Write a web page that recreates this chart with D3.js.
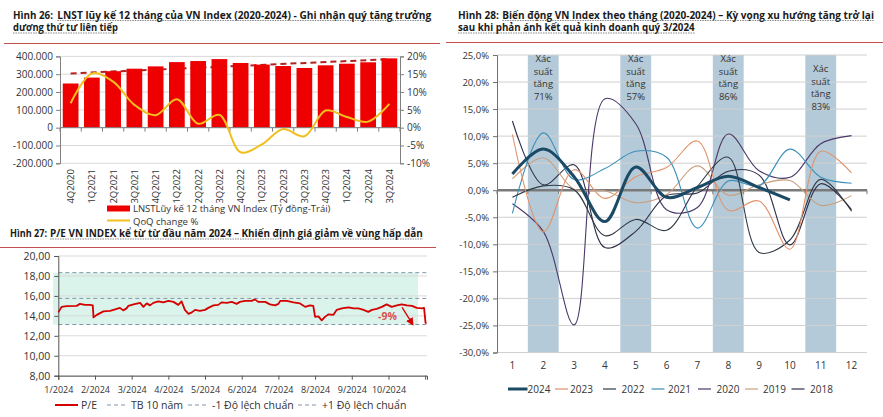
<!DOCTYPE html>
<html><head><meta charset="utf-8">
<script src="https://cdn.jsdelivr.net/npm/d3@7/dist/d3.min.js"></script>
<style>
body{margin:0;background:#fff}
svg{display:block}
text{font-family:"Open Sans","Noto Sans",sans-serif;fill:#333}
</style>
</head><body>
<svg id="c" width="883" height="417"></svg>
<script>
// ---------------- DATA ----------------
// Hình 26
const quarters = ["4Q2020","1Q2021","2Q2021","3Q2021","4Q2021","1Q2022","2Q2022","3Q2022","4Q2022","1Q2023","2Q2023","3Q2023","4Q2023","1Q2024","2Q2024","3Q2024"];
const profit = [248000,281000,317000,331000,344000,368000,374000,385000,363000,354000,346000,335000,350000,359000,367000,389000];
const qoqChange = [6.85,15.2,12.9,6.4,3.5,8.0,1.1,3.6,-6.9,-4.7,-0.4,-2.4,4.8,3.0,1.7,6.7];
const profitTicks = [-200000,-100000,0,100000,200000,300000,400000];
const qoqTicks = [-10,-5,0,5,10,15,20];

// Hình 27
const peMonth = [0,0.09,0.23,0.5,0.59,0.73,0.86,0.94,0.96,1.05,1.23,1.41,1.55,1.68,1.77,1.86,1.91,2.05,2.23,2.32,2.41,2.5,2.59,2.73,2.86,3.0,3.14,3.27,3.36,3.45,3.55,3.64,3.73,3.86,4.0,4.09,4.23,4.36,4.45,4.59,4.73,4.86,4.95,5.09,5.27,5.36,5.45,5.64,5.77,5.91,6.0,6.05,6.23,6.41,6.59,6.73,6.86,6.95,7.0,7.09,7.18,7.27,7.36,7.5,7.59,7.73,7.91,8.05,8.18,8.32,8.45,8.55,8.68,8.82,8.95,9.09,9.23,9.36,9.5,9.64,9.77,9.91,9.97,10.01,10.04];
const peValue = [14.35,14.9,14.98,15.0,15.2,15.1,15.1,15.05,13.85,14.1,14.45,14.5,14.65,14.8,14.55,14.75,15.0,15.15,15.3,14.9,15.25,15.05,15.3,15.45,15.35,15.5,15.4,15.1,15.45,14.6,14.2,14.35,14.6,14.5,14.6,14.8,15.05,15.1,15.35,15.3,15.4,15.2,15.4,15.5,15.5,15.65,15.4,15.4,15.15,15.05,15.2,15.5,15.5,15.35,15.25,14.9,15.05,15.0,13.9,13.95,13.55,13.9,14.15,14.1,14.6,14.75,14.85,14.75,14.75,14.6,14.4,14.6,14.7,14.9,15.15,14.9,15.05,15.15,15.05,15.0,14.8,14.75,14.8,13.3,13.3];
const peMonthLabels = ["1/2024","2/2024","3/2024","4/2024","5/2024","6/2024","7/2024","8/2024","9/2024","10/2024"];
const peTicks = [8,10,12,14,16,18,20];
const peMean10y = 15.75;
const pePlus1Sd = 18.33;
const peMinus1Sd = 13.13;
const peDropLabel = "-9%";
const peArrowFrom = [9.37,14.85];
const peArrowTo = [9.66,13.15];

// Hình 28
const months = [1,2,3,4,5,6,7,8,9,10,11,12];
const years = ["2024","2023","2022","2021","2020","2019","2018"];
const ret2024 = [3.0,7.6,2.5,-5.8,4.3,-1.3,0.5,2.6,0.5,-1.8];
const ret2023 = [10.3,-7.7,3.8,-1.5,2.5,4.2,9.1,-3.7,-2.0,-10.9,7.2,3.2];
const ret2022 = [-1.3,0.8,0.1,-8.4,-5.4,-7.4,0.7,6.1,-11.5,-9.2,2.0,-3.9];
const ret2021 = [-4.3,10.6,2.0,4.0,7.2,6.1,-7.0,1.7,0.8,7.6,2.4,1.3];
const ret2020 = [-2.5,-7.6,-24.9,16.9,12.3,-3.6,-3.2,10.4,3.6,2.4,8.6,10.1];
const ret2019 = [2.1,6.0,0.2,-0.1,-2.3,-0.8,4.5,-0.9,1.0,1.8,-2.8,-1.0];
const ret2018 = [12.8,1.0,4.7,-10.6,-7.6,-1.0,-0.5,3.5,2.8,-10.1,1.2,-3.6];
const bandMonths = [2,5,8,11];
const bandProb = ["71%","57%","86%","83%"];
const retTicks = [-30,-25,-20,-15,-10,-5,0,5,10,15,20,25];

// ---------------- DRAW ----------------
const svg = d3.select("#c");
const loc = d3.formatLocale({decimal:",",thousands:".",grouping:[3],currency:["",""],minus:"-"});
const fmtThou = loc.format(",.0f");
const fmtPct1 = v => loc.format(".1f")(v) + "%";
const fmtPe = loc.format(".2f");

function tText(x, y, s, w, underline) {
  const g = svg.append("g").attr("transform", `translate(${x},${y})`);
  const t = g.append("text").attr("x", 0).attr("y", 0)
    .attr("font-size", 10).attr("font-weight", 700).style("fill", "#1a1a1a")
    .attr("font-family","Roboto, 'Open Sans', sans-serif").text(s);
  const nat = t.node().getComputedTextLength();
  const sx = w / nat;
  t.attr("transform", `scale(${sx},1)`);
  if (underline) {
    g.append("line").attr("x1", 0).attr("x2", w).attr("y1", 2).attr("y2", 2)
      .attr("stroke", "#555").attr("stroke-width", 0.7).attr("stroke-dasharray", "1.5,1");
  }
}
tText(13, 18.5, "Hình 26:", 40, false);
tText(57.3, 18.5, "LNST lũy kế 12 tháng của VN Index (2020-2024) -  Ghi nhận quý tăng trưởng", 374, true);
tText(13, 31, "dương thứ tư liên tiếp", 105, true);
svg.append("line").attr("x1",4).attr("x2",440).attr("y1",43.5).attr("y2",43.5).attr("stroke","#c0504d").attr("stroke-width",1);

tText(10, 237, "Hình 27:", 37, false);
tText(50, 237, "P/E VN INDEX kể từ từ đầu năm 2024 – Khiến định giá giảm về vùng hấp dẫn", 373, true);
svg.append("line").attr("x1",0).attr("x2",436).attr("y1",247.5).attr("y2",247.5).attr("stroke","#c0504d").attr("stroke-width",1);

tText(458, 18.5, "Hình 28:", 41, false);
tText(502.3, 18.5, "Biến động VN Index theo tháng (2020-2024) – Kỳ vọng xu hướng tăng trở lại", 372, true);
tText(458, 31, "sau khi phản ánh kết quả kinh doanh quý 3/2024", 237, true);
svg.append("line").attr("x1",446).attr("x2",883).attr("y1",42.5).attr("y2",42.5).attr("stroke","#c0504d").attr("stroke-width",1);

// ===== Chart 26 =====
(function(){
  const x = d3.scaleBand().domain(quarters).range([60,400]).paddingInner(0.26).paddingOuter(0.13);
  const yL = d3.scaleLinear().domain([-200000,400000]).range([163.3,56.4]);
  const yR = d3.scaleLinear().domain([-10,20]).range([163.3,56.4]);
  const g = svg.append("g");
  g.selectAll("line.grid").data(profitTicks).join("line")
    .attr("x1",60).attr("x2",400).attr("y1",d=>yL(d)).attr("y2",d=>yL(d))
    .attr("stroke","#d9d9d9").attr("stroke-width",1);
  // trend (linear regression of profit)
  const n = profit.length, xs = d3.range(n);
  const mx = d3.mean(xs), my = d3.mean(profit);
  const slope = d3.sum(xs, i => (i-mx)*(profit[i]-my)) / d3.sum(xs, i => (i-mx)*(i-mx));
  const icpt = my - slope*mx;
  g.append("line")
    .attr("x1", x(quarters[0]) + x.bandwidth()/2).attr("y1", yL(icpt))
    .attr("x2", x(quarters[n-1]) + x.bandwidth()/2).attr("y2", yL(icpt + slope*(n-1)))
    .attr("stroke","#b22222").attr("stroke-width",2).attr("stroke-dasharray","6,4");
  g.selectAll("rect.bar").data(profit).join("rect")
    .attr("x",(d,i)=>x(quarters[i])).attr("width",x.bandwidth())
    .attr("y",d=>yL(d)).attr("height",d=>yL(0)-yL(d)).attr("fill","#ee0000");
  // axes
  const axL = g.append("g").attr("transform","translate(60,0)")
    .call(d3.axisLeft(yL).tickValues(profitTicks).tickFormat(fmtThou).tickSize(4).tickPadding(3));
  const axR = g.append("g").attr("transform","translate(400,0)")
    .call(d3.axisRight(yR).tickValues(qoqTicks).tickFormat(d=>d+"%").tickSize(4).tickPadding(3));
  [axL,axR].forEach(a=>{a.select(".domain").attr("stroke","#808080");a.selectAll(".tick line").attr("stroke","#808080");
    a.selectAll("text").attr("font-size",10).style("fill","#333").attr("font-family","'Open Sans'");});
  // zero axis
  g.append("line").attr("x1",60).attr("x2",400).attr("y1",yL(0)).attr("y2",yL(0)).attr("stroke","#808080");
  const bounds = quarters.map(q=>x(q)-x.step()*x.paddingInner()/2).concat([400]);
  g.selectAll("line.zt").data(bounds).join("line")
    .attr("x1",d=>d).attr("x2",d=>d).attr("y1",yL(0)).attr("y2",yL(0)+4).attr("stroke","#808080");
  // QoQ
  const line = d3.line().x((d,i)=>x(quarters[i])+x.bandwidth()/2).y(d=>yR(d)).curve(d3.curveCatmullRom.alpha(0.5));
  g.append("path").attr("d",line(qoqChange)).attr("fill","none").attr("stroke","#f2c01e").attr("stroke-width",2);
  // x labels
  g.selectAll("text.xl").data(quarters).join("text")
    .attr("transform",d=>`translate(${x(d)+x.bandwidth()/2+3.5},169) rotate(-90)`)
    .attr("text-anchor","end").attr("font-size",9.5).text(d=>d);
  // legend
  g.append("rect").attr("x",107).attr("y",205.5).attr("width",23).attr("height",6).attr("fill","#ee0000");
  g.append("text").attr("x",133).attr("y",212).attr("font-size",9.5).text("LNSTLũy kế 12 tháng VN Index (Tỷ đồng-Trái)");
  g.append("line").attr("x1",107).attr("x2",130).attr("y1",220.5).attr("y2",220.5).attr("stroke","#f2c01e").attr("stroke-width",2);
  g.append("text").attr("x",133).attr("y",224.5).attr("font-size",9.5).text("QoQ change %");
})();

// ===== Chart 27 =====
(function(){
  const x = d3.scaleLinear().domain([0,10.05]).range([58.3,427]);
  const y = d3.scaleLinear().domain([8,20]).range([375.7,256]);
  const g = svg.append("g");
  g.append("rect").attr("x",53).attr("width",365).attr("y",y(pePlus1Sd)).attr("height",y(peMinus1Sd)-y(pePlus1Sd)).attr("fill","#daf3eb");
  g.selectAll("line.grid").data(peTicks).join("line")
    .attr("x1",58.3).attr("x2",427).attr("y1",d=>y(d)).attr("y2",d=>y(d)).attr("stroke","#d9d9d9");
  [pePlus1Sd, peMean10y, peMinus1Sd].forEach(v=>{
    g.append("line").attr("x1",58.3).attr("x2",427).attr("y1",y(v)).attr("y2",y(v))
      .attr("stroke","#8595a8").attr("stroke-width",1).attr("stroke-dasharray","4,3");
  });
  const ay = g.append("g").attr("transform","translate(58.3,0)")
    .call(d3.axisLeft(y).tickValues(peTicks).tickFormat(fmtPe).tickSize(4).tickPadding(4));
  ay.selectAll("text").attr("font-size",10.5);
  const ax = g.append("g").attr("transform",`translate(0,${y(8)})`)
    .call(d3.axisBottom(x).tickValues(d3.range(0,11)).tickFormat(d=>peMonthLabels[d]||"").tickSize(4).tickPadding(7));
  ax.selectAll("text").attr("font-size",9);
  [ay,ax].forEach(a=>{a.select(".domain").attr("stroke","#555");a.selectAll(".tick line").attr("stroke","#555");
    a.selectAll("text").style("fill","#333").attr("font-family","'Open Sans'");});
  const line = d3.line().x((d,i)=>x(peMonth[i])).y(d=>y(d));
  g.append("path").attr("d",line(peValue)).attr("fill","none").attr("stroke","#d40000").attr("stroke-width",1.8).attr("stroke-linejoin","round");
  // annotation
  svg.append("defs").append("marker").attr("id","ah").attr("viewBox","0 0 10 10").attr("refX",8).attr("refY",5)
    .attr("markerWidth",6).attr("markerHeight",6).attr("orient","auto")
    .append("path").attr("d","M0,0L10,5L0,10z").attr("fill","#d40000");
  g.append("line").attr("x1",x(peArrowFrom[0])).attr("y1",y(peArrowFrom[1])).attr("x2",x(peArrowTo[0])).attr("y2",y(peArrowTo[1]))
    .attr("stroke","#d40000").attr("stroke-width",1.3).attr("marker-end","url(#ah)");
  g.append("text").attr("x",378).attr("y",320).attr("font-size",10.5).attr("font-weight",700).style("fill","#d9534f").text(peDropLabel);
  // legend
  const ly = 405;
  g.append("line").attr("x1",55).attr("x2",78).attr("y1",ly).attr("y2",ly).attr("stroke","#d40000").attr("stroke-width",2);
  g.append("text").attr("x",81).attr("y",ly+3.5).attr("font-size",10.5).text("P/E");
  const items = [[107,"TB 10 năm"],[188,"-1 Độ lệch chuẩn"],[298,"+1 Độ lệch chuẩn"]];
  items.forEach(([lx,t])=>{
    g.append("line").attr("x1",lx).attr("x2",lx+21).attr("y1",ly).attr("y2",ly).attr("stroke","#8595a8").attr("stroke-dasharray","4,3");
    g.append("text").attr("x",lx+24).attr("y",ly+3.5).attr("font-size",10.5).text(t);
  });
})();

// ===== Chart 28 =====
(function(){
  const x = d3.scaleBand().domain(months).range([497,867]).padding(0);
  const y = d3.scaleLinear().domain([-30,25]).range([352.5,55]);
  const g = svg.append("g");
  g.selectAll("rect.band").data(bandMonths).join("rect")
    .attr("x",d=>x(d)).attr("width",x.bandwidth()).attr("y",y(25)).attr("height",y(-30)-y(25)).attr("fill","#b5cad8");
  g.selectAll("line.grid").data(retTicks.filter(d=>d!==0)).join("line")
    .attr("x1",497).attr("x2",867).attr("y1",d=>y(d)).attr("y2",d=>y(d)).attr("stroke","#d0d0d0");
  // band labels
  bandMonths.forEach((m,i)=>{
    const top = m===11 ? 72 : 62;
    const cx = x(m)+x.bandwidth()/2;
    ["Xác","suất","tăng",bandProb[i]].forEach((s,k)=>{
      g.append("text").attr("x",cx).attr("y",top+k*12.5).attr("text-anchor","middle")
        .attr("font-family","Roboto, sans-serif").attr("font-size",9.5).style("fill","#333").text(s);
    });
  });
  const ay = g.append("g").attr("transform","translate(497,0)")
    .call(d3.axisLeft(y).tickValues(retTicks).tickFormat(fmtPct1).tickSize(4).tickPadding(4));
  ay.select(".domain").attr("stroke","#707070");
  ay.selectAll(".tick line").attr("stroke","#707070");
  ay.selectAll("text").attr("font-size",9.5).style("fill","#333").attr("font-family","'Open Sans'");
  // zero line
  g.append("line").attr("x1",497).attr("x2",867).attr("y1",y(0)).attr("y2",y(0)).attr("stroke","#7a7a7a").attr("stroke-width",2.5);
  g.selectAll("line.zt").data(months.map(m=>x(m)).concat([867])).join("line")
    .attr("x1",d=>d).attr("x2",d=>d).attr("y1",y(0)).attr("y2",y(0)+4).attr("stroke","#7a7a7a");
  // series
  const series = {"2024":ret2024,"2023":ret2023,"2022":ret2022,"2021":ret2021,"2020":ret2020,"2019":ret2019,"2018":ret2018};
  const colors = {"2024":"#1b4a66","2023":"#e0926c","2022":"#2f3a45","2021":"#3a8fb9","2020":"#4b3868","2019":"#c9a07e","2018":"#2e2e48"};
  const line = d3.line().x((d,i)=>x(months[i])+x.bandwidth()/2).y(d=>y(d)).curve(d3.curveCatmullRom.alpha(0.5));
  years.slice().reverse().forEach(yr=>{
    g.append("path").attr("d",line(series[yr])).attr("fill","none").attr("stroke",colors[yr])
      .attr("stroke-width", yr==="2024" ? 3 : 1.1);
  });
  // x labels
  g.selectAll("text.xl").data(months).join("text")
    .attr("x",d=>x(d)+x.bandwidth()/2).attr("y",369).attr("text-anchor","middle").attr("font-size",10).text(d=>d);
  // legend
  const ly = 389;
  const pos = [[508,527.5],[555,570],[603,621.5],[651.5,668],[698,716.5],[745,763],[791.5,810]];
  years.forEach((yr,i)=>{
    const [lx,tx] = pos[i];
    g.append("line").attr("x1",lx).attr("x2",yr==="2024"?tx:lx+13).attr("y1",ly).attr("y2",ly)
      .attr("stroke",colors[yr]).attr("stroke-width",yr==="2024"?3:1.2);
    g.append("text").attr("x",tx).attr("y",ly+3.5).attr("font-size",10).text(yr);
  });
})();
</script>
</body></html>
